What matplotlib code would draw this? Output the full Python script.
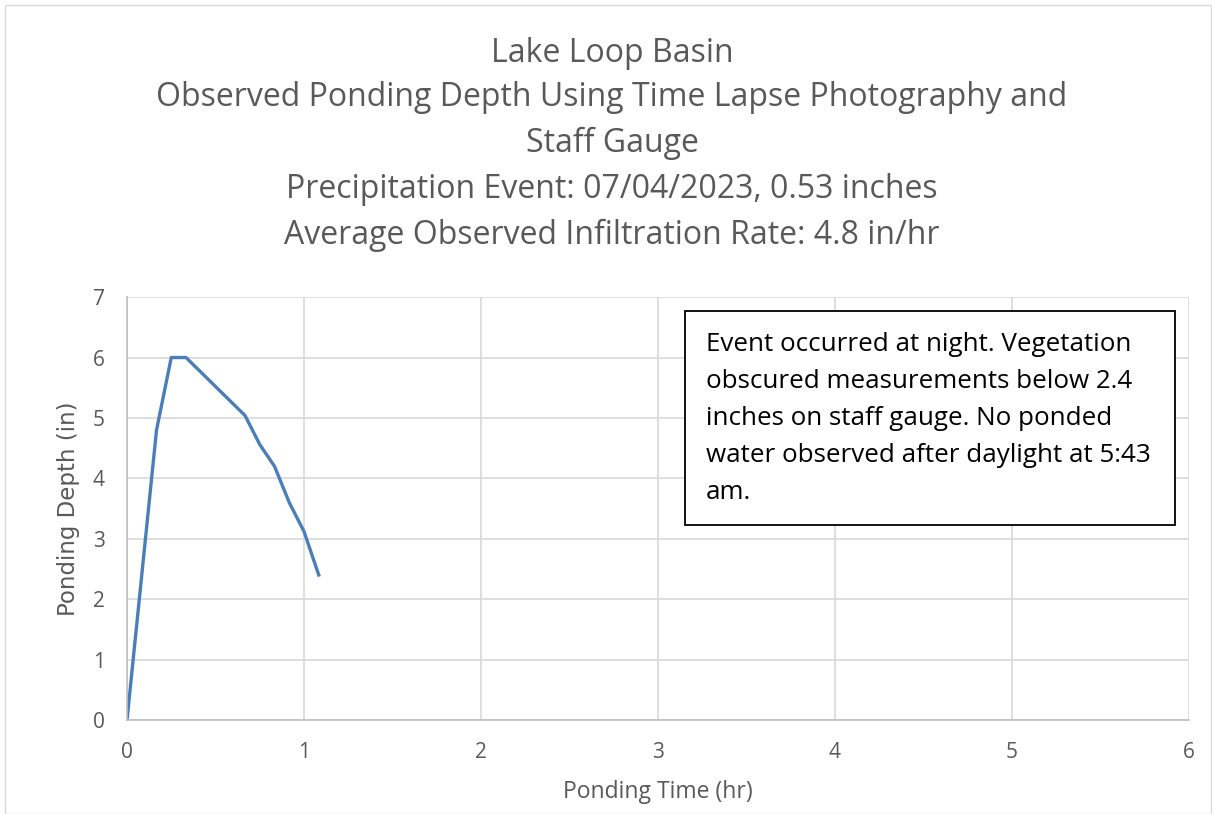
import matplotlib
matplotlib.use('Agg')
from matplotlib import pyplot as plt
from matplotlib.patches import Rectangle

# ponding time (hr) and observed depth (in)
time_hr = [0, 0.1667, 0.25, 0.3333, 0.6667, 0.75, 0.8333, 0.9167, 1.0, 1.0833]
depth_in = [0, 4.8, 6.0, 6.0, 5.04, 4.56, 4.2, 3.6, 3.12, 2.4]

title_lines = ['Lake Loop Basin',
               'Observed Ponding Depth Using Time Lapse Photography and',
               'Staff Gauge',
               'Precipitation Event: 07/04/2023, 0.53 inches',
               'Average Observed Infiltration Rate: 4.8 in/hr']
note = ('Event occurred at night. Vegetation\n'
        'obscured measurements below 2.4\n'
        'inches on staff gauge. No ponded\n'
        'water observed after daylight at 5:43\n'
        'am.')

plt.rcParams['font.family'] = ['Open Sans', 'DejaVu Sans']
grey = '#595959'

fig = plt.figure(figsize=(12.12, 8.14), dpi=100)
fig.patches.append(Rectangle((0.004, 0.0), 0.995, 0.994, transform=fig.transFigure,
                             fill=False, edgecolor='#d9d9d9', linewidth=1))
ax = fig.add_axes([0.1048, 0.1155, 0.8762, 0.5195])

ax.plot(time_hr, depth_in, color='#4a7ebb', linewidth=2.4, solid_joinstyle='round')

ax.set_xlim(0, 6)
ax.set_ylim(0, 7)
ax.set_xticks(range(0, 7))
ax.set_yticks(range(0, 8))
ax.grid(True, color='#d9d9d9', linewidth=1.2)
ax.set_axisbelow(True)
for s in ['top', 'right']:
    ax.spines[s].set_visible(False)
for s in ['left', 'bottom']:
    ax.spines[s].set_color('#bfbfbf')
    ax.spines[s].set_linewidth(1.2)
ax.tick_params(length=0, labelsize=15, labelcolor=grey, pad=16)
ax.set_xlabel('Ponding Time (hr)', fontsize=16.5, color=grey, labelpad=12)
ax.set_ylabel('Ponding Depth (in)', fontsize=16.5, color=grey, labelpad=9,
              family=['DejaVu Sans'])

ys = [53, 98, 143, 189, 235]
for t, y in zip(title_lines, ys):
    fig.text(612 / 1212, 1 - y / 814, t, ha='center', va='center', fontsize=23, color=grey)

fig.patches.append(Rectangle((685 / 1212, 1 - 525 / 814), 490 / 1212, 214 / 814,
                             transform=fig.transFigure, facecolor='white',
                             edgecolor='black', linewidth=1.3, zorder=5))
fig.text(706 / 1212, 1 - 332 / 814, note, ha='left', va='top', fontsize=18.7,
         color='black', linespacing=1.63, zorder=6)

fig.savefig('out.png', dpi=100)
